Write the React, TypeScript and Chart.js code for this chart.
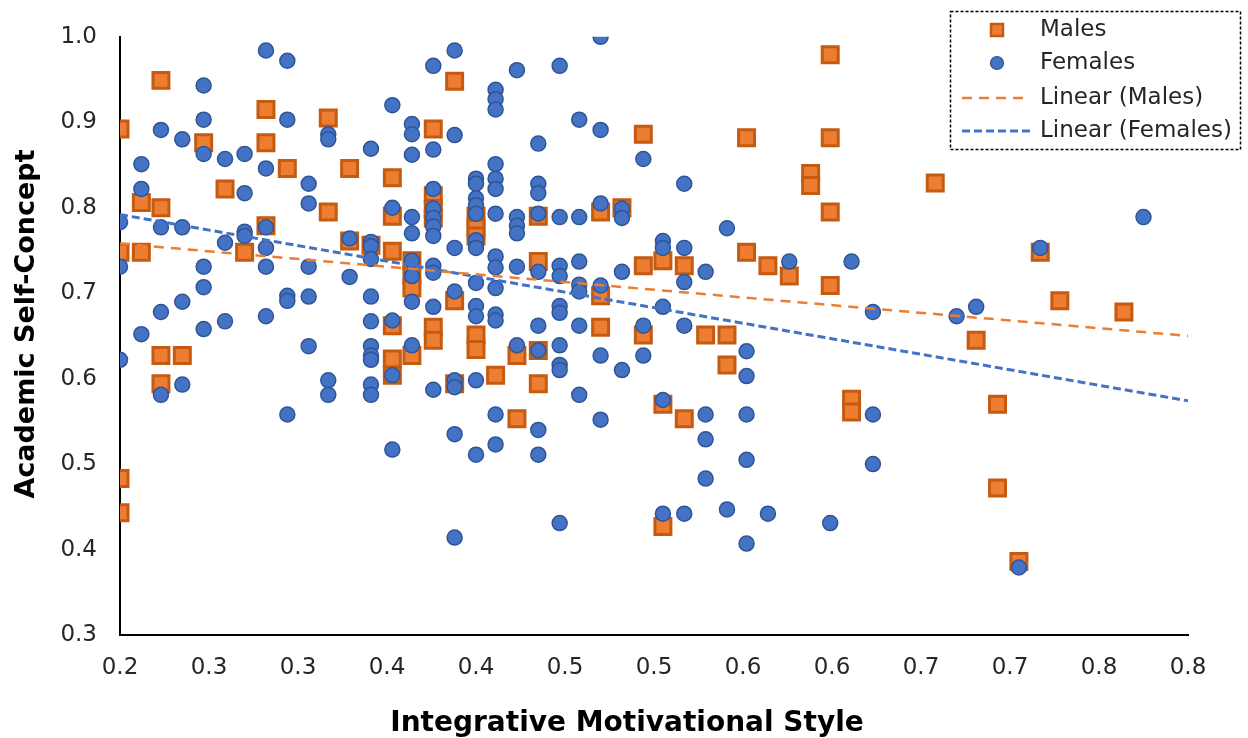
import React, { useEffect, useRef } from "react";
import { Chart, registerables } from "chart.js";

Chart.register(...registerables);

// ---------------- data ----------------
const MALES: [number, number][] = [
  [0.200, 0.892], [0.200, 0.748], [0.200, 0.483], [0.200, 0.443],
  [0.212, 0.806], [0.212, 0.748],
  [0.223, 0.949], [0.223, 0.800], [0.223, 0.627], [0.223, 0.594],
  [0.235, 0.627],
  [0.247, 0.876],
  [0.259, 0.822],
  [0.270, 0.748],
  [0.282, 0.915], [0.282, 0.876], [0.282, 0.779],
  [0.294, 0.846],
  [0.317, 0.905], [0.317, 0.795],
  [0.329, 0.846], [0.329, 0.761],
  [0.341, 0.756],
  [0.353, 0.835], [0.353, 0.790], [0.353, 0.749], [0.353, 0.662], [0.353, 0.623], [0.353, 0.604],
  [0.364, 0.738], [0.364, 0.721], [0.364, 0.706], [0.364, 0.627],
  [0.376, 0.892], [0.376, 0.814], [0.376, 0.799], [0.376, 0.788], [0.376, 0.660], [0.376, 0.645],
  [0.388, 0.948], [0.388, 0.691], [0.388, 0.594],
  [0.400, 0.790], [0.400, 0.776], [0.400, 0.767], [0.400, 0.651], [0.400, 0.634],
  [0.411, 0.604],
  [0.423, 0.627], [0.423, 0.553],
  [0.435, 0.790], [0.435, 0.737], [0.435, 0.633], [0.435, 0.594],
  [0.470, 0.795], [0.470, 0.697], [0.470, 0.660],
  [0.482, 0.800],
  [0.494, 0.886], [0.494, 0.732], [0.494, 0.651],
  [0.505, 0.738], [0.505, 0.570], [0.505, 0.427],
  [0.517, 0.732], [0.517, 0.553],
  [0.529, 0.651],
  [0.541, 0.651], [0.541, 0.616],
  [0.552, 0.882], [0.552, 0.748],
  [0.564, 0.732],
  [0.576, 0.720],
  [0.588, 0.840], [0.588, 0.826],
  [0.599, 0.979], [0.599, 0.882], [0.599, 0.795], [0.599, 0.709],
  [0.611, 0.576], [0.611, 0.561],
  [0.658, 0.829],
  [0.681, 0.645],
  [0.693, 0.570], [0.693, 0.472],
  [0.705, 0.386],
  [0.717, 0.748],
  [0.728, 0.691],
  [0.764, 0.678],
];

const FEMALES: [number, number][] = [
  [0.200, 0.783], [0.200, 0.731], [0.200, 0.622],
  [0.212, 0.851], [0.212, 0.822], [0.212, 0.652],
  [0.223, 0.891], [0.223, 0.777], [0.223, 0.678], [0.223, 0.581],
  [0.235, 0.880], [0.235, 0.777], [0.235, 0.690], [0.235, 0.593],
  [0.247, 0.943], [0.247, 0.903], [0.247, 0.863], [0.247, 0.731], [0.247, 0.707], [0.247, 0.658],
  [0.259, 0.857], [0.259, 0.759], [0.259, 0.667],
  [0.270, 0.863], [0.270, 0.817], [0.270, 0.772], [0.270, 0.767],
  [0.282, 0.984], [0.282, 0.846], [0.282, 0.777], [0.282, 0.753], [0.282, 0.731], [0.282, 0.673],
  [0.294, 0.972], [0.294, 0.903], [0.294, 0.697], [0.294, 0.691], [0.294, 0.558],
  [0.306, 0.828], [0.306, 0.805], [0.306, 0.731], [0.306, 0.696], [0.306, 0.638],
  [0.317, 0.886], [0.317, 0.880], [0.317, 0.598], [0.317, 0.581],
  [0.329, 0.764], [0.329, 0.719],
  [0.341, 0.869], [0.341, 0.760], [0.341, 0.755], [0.341, 0.740], [0.341, 0.696], [0.341, 0.667],
  [0.341, 0.638], [0.341, 0.627], [0.341, 0.622], [0.341, 0.593], [0.341, 0.581],
  [0.353, 0.920], [0.353, 0.800], [0.353, 0.668], [0.353, 0.604], [0.353, 0.517],
  [0.364, 0.898], [0.364, 0.886], [0.364, 0.862], [0.364, 0.789], [0.364, 0.770], [0.364, 0.738],
  [0.364, 0.720], [0.364, 0.690], [0.364, 0.639],
  [0.376, 0.966], [0.376, 0.868], [0.376, 0.822], [0.376, 0.799], [0.376, 0.788], [0.376, 0.778],
  [0.376, 0.767], [0.376, 0.732], [0.376, 0.724], [0.376, 0.684], [0.376, 0.587],
  [0.388, 0.984], [0.388, 0.885], [0.388, 0.753], [0.388, 0.702], [0.388, 0.598], [0.388, 0.590],
  [0.388, 0.535], [0.388, 0.414],
  [0.400, 0.834], [0.400, 0.828], [0.400, 0.811], [0.400, 0.803], [0.400, 0.793], [0.400, 0.762],
  [0.400, 0.753], [0.400, 0.712], [0.400, 0.685], [0.400, 0.673], [0.400, 0.598], [0.400, 0.511],
  [0.411, 0.938], [0.411, 0.927], [0.411, 0.915], [0.411, 0.851], [0.411, 0.834], [0.411, 0.822],
  [0.411, 0.793], [0.411, 0.743], [0.411, 0.730], [0.411, 0.706], [0.411, 0.675], [0.411, 0.668],
  [0.411, 0.558], [0.411, 0.523],
  [0.423, 0.961], [0.423, 0.789], [0.423, 0.779], [0.423, 0.770], [0.423, 0.731], [0.423, 0.639],
  [0.435, 0.875], [0.435, 0.828], [0.435, 0.817], [0.435, 0.793], [0.435, 0.725], [0.435, 0.662],
  [0.435, 0.633], [0.435, 0.540], [0.435, 0.511],
  [0.447, 0.966], [0.447, 0.789], [0.447, 0.732], [0.447, 0.720], [0.447, 0.685], [0.447, 0.677],
  [0.447, 0.639], [0.447, 0.616], [0.447, 0.610], [0.447, 0.431],
  [0.458, 0.903], [0.458, 0.789], [0.458, 0.737], [0.458, 0.710], [0.458, 0.702], [0.458, 0.662], [0.458, 0.581],
  [0.470, 1.000], [0.470, 0.891], [0.470, 0.805], [0.470, 0.709], [0.470, 0.627], [0.470, 0.552],
  [0.482, 0.799], [0.482, 0.788], [0.482, 0.725], [0.482, 0.610],
  [0.494, 0.857], [0.494, 0.662], [0.494, 0.627],
  [0.505, 0.761], [0.505, 0.753], [0.505, 0.684], [0.505, 0.575], [0.505, 0.442],
  [0.517, 0.828], [0.517, 0.753], [0.517, 0.713], [0.517, 0.662], [0.517, 0.442],
  [0.529, 0.725], [0.529, 0.558], [0.529, 0.529], [0.529, 0.483],
  [0.541, 0.776], [0.541, 0.447],
  [0.552, 0.632], [0.552, 0.603], [0.552, 0.558], [0.552, 0.505], [0.552, 0.407],
  [0.564, 0.442],
  [0.576, 0.737],
  [0.599, 0.431],
  [0.611, 0.737],
  [0.623, 0.678], [0.623, 0.558], [0.623, 0.500],
  [0.670, 0.673],
  [0.681, 0.684],
  [0.705, 0.379],
  [0.717, 0.753],
  [0.775, 0.789],
];

const TREND_X = [0.2, 0.8];
const TREND_MALES = [0.758, 0.650];
const TREND_FEMALES = [0.792, 0.574];

const X_TICKS = [0.2, 0.25, 0.3, 0.35, 0.4, 0.45, 0.5, 0.55, 0.6, 0.65, 0.7, 0.75, 0.8];
const X_TICK_LABELS = ["0.2", "0.3", "0.3", "0.4", "0.4", "0.5", "0.5", "0.6", "0.6", "0.7", "0.7", "0.8", "0.8"];
const Y_TICKS = [0.3, 0.4, 0.5, 0.6, 0.7, 0.8, 0.9, 1.0];
const Y_TICK_LABELS = ["0.3", "0.4", "0.5", "0.6", "0.7", "0.8", "0.9", "1.0"];

const LEGEND_LABELS = ["Males", "Females", "Linear (Males)", "Linear (Females)"];
const X_TITLE = "Integrative Motivational Style";
const Y_TITLE = "Academic Self-Concept";

// ---------------- styles ----------------
const FONT = "'DejaVu Sans', Verdana, sans-serif";
const ORANGE = "#ED7D31";
const ORANGE_DARK = "#C55A11";
const BLUE = "#4472C4";
const BLUE_DARK = "#2F5597";
const TEXT = "#262626";

const overlayPlugin = {
  id: "overlay",
  afterDraw(chart: any) {
    const ctx = chart.ctx as CanvasRenderingContext2D;
    ctx.save();
    // axis titles
    ctx.fillStyle = "#000";
    ctx.textAlign = "center";
    ctx.textBaseline = "alphabetic";
    ctx.font = `bold 28px ${FONT}`;
    ctx.fillText(X_TITLE, 627, 731);
    ctx.save();
    ctx.translate(34, 324);
    ctx.rotate(-Math.PI / 2);
    ctx.font = `bold 27px ${FONT}`;
    ctx.fillText(Y_TITLE, 0, 0);
    ctx.restore();

    // legend box
    ctx.setLineDash([3, 2]);
    ctx.strokeStyle = "#000";
    ctx.lineWidth = 1.5;
    ctx.strokeRect(950.5, 11.5, 290, 138);
    ctx.setLineDash([]);

    const rows = [30, 63, 98, 131];
    // square marker
    ctx.fillStyle = ORANGE;
    ctx.strokeStyle = ORANGE_DARK;
    ctx.lineWidth = 2.5;
    ctx.fillRect(991, rows[0] - 6, 12, 12);
    ctx.strokeRect(991, rows[0] - 6, 12, 12);
    // circle marker
    ctx.beginPath();
    ctx.arc(997, rows[1], 6.5, 0, Math.PI * 2);
    ctx.fillStyle = BLUE;
    ctx.fill();
    ctx.lineWidth = 1.2;
    ctx.strokeStyle = BLUE_DARK;
    ctx.stroke();
    // line samples
    ctx.lineWidth = 2.5;
    ctx.strokeStyle = ORANGE;
    ctx.setLineDash([10, 7]);
    ctx.beginPath();
    ctx.moveTo(962, rows[2]);
    ctx.lineTo(1030, rows[2]);
    ctx.stroke();
    ctx.lineWidth = 3;
    ctx.strokeStyle = BLUE;
    ctx.setLineDash([8, 4]);
    ctx.beginPath();
    ctx.moveTo(962, rows[3]);
    ctx.lineTo(1032, rows[3]);
    ctx.stroke();
    ctx.setLineDash([]);

    ctx.fillStyle = TEXT;
    ctx.font = `23px ${FONT}`;
    ctx.textAlign = "left";
    ctx.textBaseline = "middle";
    LEGEND_LABELS.forEach((t, i) => ctx.fillText(t, 1040, rows[i]));
    ctx.restore();
  },
};

export default function App() {
  const ref = useRef<HTMLCanvasElement | null>(null);

  useEffect(() => {
    document.body.style.margin = "0";
    if (!ref.current) return;
    const chart = new Chart(ref.current, {
      type: "scatter",
      data: {
        datasets: [
          {
            label: "Linear (Males)",
            data: TREND_X.map((x, i) => ({ x, y: TREND_MALES[i] })),
            showLine: true,
            borderColor: ORANGE,
            borderWidth: 2.5,
            borderDash: [10, 7],
            pointRadius: 0,
            fill: false,
            order: 0,
          },
          {
            label: "Linear (Females)",
            data: TREND_X.map((x, i) => ({ x, y: TREND_FEMALES[i] })),
            showLine: true,
            borderColor: BLUE,
            borderWidth: 3,
            borderDash: [8, 4],
            pointRadius: 0,
            fill: false,
            order: 0,
          },
          {
            label: "Females",
            data: FEMALES.map(([x, y]) => ({ x, y })),
            pointStyle: "circle",
            pointRadius: 7.5,
            backgroundColor: BLUE,
            borderColor: BLUE_DARK,
            borderWidth: 1.5,
            order: 1,
          },
          {
            label: "Males",
            data: MALES.map(([x, y]) => ({ x, y })),
            pointStyle: "rect",
            pointRadius: 11.3,
            backgroundColor: ORANGE,
            borderColor: ORANGE_DARK,
            borderWidth: 3,
            order: 2,
          },
        ],
      },
      options: {
        animation: false,
        responsive: false,
        maintainAspectRatio: false,
        layout: { padding: { left: 0, right: 60, top: 31, bottom: 0 } },
        plugins: { legend: { display: false }, tooltip: { enabled: false } },
        scales: {
          x: {
            type: "linear",
            min: 0.2,
            max: 0.8,
            afterBuildTicks: (s: any) => {
              s.ticks = X_TICKS.map((v) => ({ value: v }));
            },
            afterFit: (s: any) => {
              s.height = 103;
            },
            ticks: {
              callback: (_v: any, i: number) => X_TICK_LABELS[i],
              font: { family: FONT, size: 23 },
              color: TEXT,
              padding: 19,
              maxRotation: 0,
              autoSkip: false,
            },
            grid: { display: false, drawTicks: false },
            border: { display: true, color: "#000", width: 2 },
          },
          y: {
            type: "linear",
            min: 0.3,
            max: 1.0,
            afterBuildTicks: (s: any) => {
              s.ticks = Y_TICKS.map((v) => ({ value: v }));
            },
            afterFit: (s: any) => {
              s.width = 120;
            },
            ticks: {
              callback: (_v: any, i: number) => Y_TICK_LABELS[i],
              font: { family: FONT, size: 23 },
              color: TEXT,
              padding: 23,
              autoSkip: false,
            },
            grid: { display: false, drawTicks: false },
            border: { display: true, color: "#000", width: 2 },
          },
        },
      },
      plugins: [overlayPlugin],
    } as any);
    return () => chart.destroy();
  }, []);

  return (
    <canvas
      ref={ref}
      width={1248}
      height={738}
      style={{ display: "block", width: 1248, height: 738 }}
    />
  );
}
